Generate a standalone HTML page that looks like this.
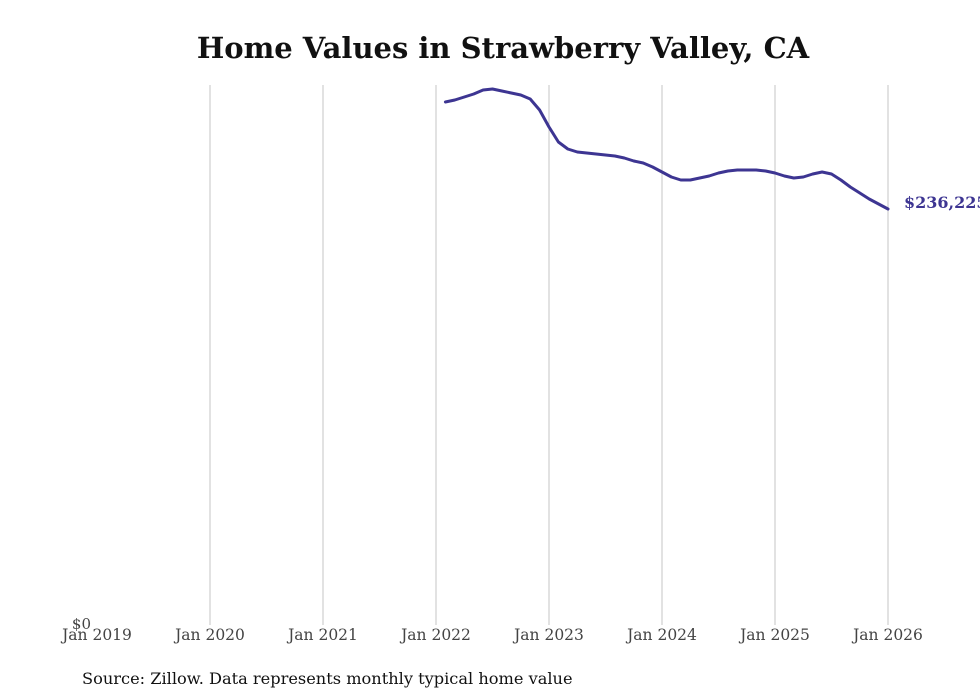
<!DOCTYPE html>
<html><head><meta charset="utf-8"><style>
body{margin:0;background:#fff;}
svg{display:block;font-family:"DejaVu Serif","Liberation Serif",serif;}
</style></head><body>
<svg id="chart" width="980" height="699">
<rect width="980" height="699" fill="#fff"/>
<text x="503" y="58" text-anchor="middle" font-size="29" font-weight="bold" fill="#111">Home Values in Strawberry Valley, CA</text>
<g id="grid"></g><g id="xlabels"></g>
<text x="91" y="629" text-anchor="end" font-size="15" fill="#444">$0</text>
<path id="line" fill="none" stroke="#3d3592" stroke-width="3" stroke-linejoin="round" stroke-linecap="round"/>
<text id="endlabel" font-size="16" font-weight="bold" fill="#3d3592"></text>
<text x="82" y="684" font-size="16.2" fill="#111">Source: Zillow. Data represents monthly typical home value</text>
</svg>
<script>
const years=["Jan 2019","Jan 2020","Jan 2021","Jan 2022","Jan 2023","Jan 2024","Jan 2025","Jan 2026"];
const startMonthIndex=37; // Feb 2022, months since Jan 2019
const values=[296986,298121,299825,301526,303800,304368,303232,302096,300960,298689,292443,282789,274272,270297,268593,268025,267457,266890,266322,265186,263482,262347,260075,257236,254397,252693,252693,253829,254965,256669,257804,258372,258372,258372,257804,256669,254965,253829,254397,256100,257236,256100,252693,248718,245311,241904,239065,236225];
const NS="http://www.w3.org/2000/svg";
const x0=97,pxYear=113,y0=625,yTop=85;
const xs=m=>x0+m*pxYear/12;
const ys=v=>y0-v*416/236225;
const grid=document.getElementById('grid'),xl=document.getElementById('xlabels');
years.forEach((t,i)=>{
  const x=xs(i*12);
  if(i>0){const l=document.createElementNS(NS,'line');
    l.setAttribute('x1',x);l.setAttribute('x2',x);l.setAttribute('y1',yTop);l.setAttribute('y2',y0);
    l.setAttribute('stroke','#c4c4c4');l.setAttribute('stroke-width','1');
    
    
    grid.appendChild(l);}
  const tx=document.createElementNS(NS,'text');
  tx.setAttribute('x',x);tx.setAttribute('y',640);tx.setAttribute('text-anchor','middle');
  tx.setAttribute('font-size','15.5');tx.setAttribute('fill','#444');tx.textContent=t;
  
  
  xl.appendChild(tx);
});
let d='';
values.forEach((v,i)=>{d+=(i?'L':'M')+xs(startMonthIndex+i).toFixed(1)+','+ys(v).toFixed(1);});
document.getElementById('line').setAttribute('d',d);
const last=values[values.length-1],lx=xs(startMonthIndex+values.length-1);
const el=document.getElementById('endlabel');
el.setAttribute('x',lx+16);el.setAttribute('y',ys(last)-1);
el.textContent='$'+last.toLocaleString('en-US');
</script>
</body></html>
